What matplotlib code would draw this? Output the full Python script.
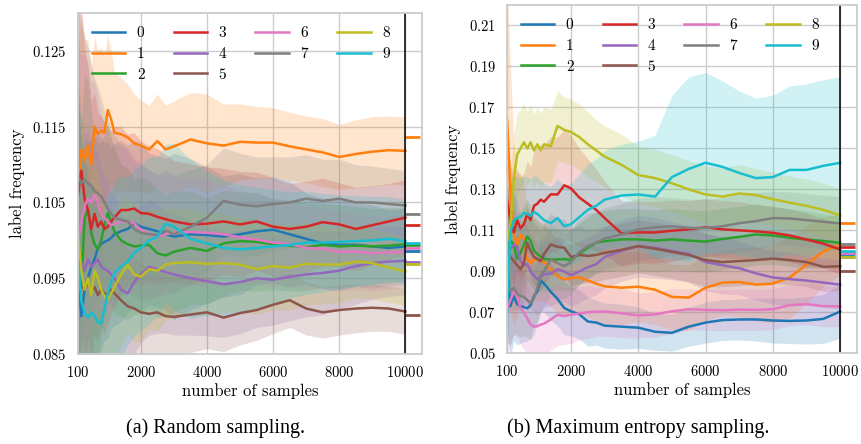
import numpy as np
import matplotlib
matplotlib.use("Agg")
import matplotlib.pyplot as plt

# number of labelled samples (x axis), shared by both panels
sample_counts = [100, 200, 300, 400, 500, 600, 700, 800, 900, 1000, 1100, 1200, 1400, 1600, 1800, 2000,
                 2250, 2500, 2750, 3000, 3500, 4000, 4500, 5000, 5500, 6000, 6500, 7000, 7500, 8000,
                 8500, 9000, 9500, 10000]

# true label frequency of each class (short marks right of the black line)
label_freq = [0.0986, 0.1136, 0.0994, 0.1020, 0.0972, 0.0901, 0.0990, 0.1035, 0.0969, 0.0997]

# ---- (a) random sampling: mean label frequency per class ----
rnd_mean_0 = [0.0960, 0.0900, 0.0935, 0.0950, 0.0965, 0.0975, 0.0990, 0.0995, 0.0998, 0.1000, 0.1003, 0.1008, 0.1012, 0.1015, 0.1022, 0.1018, 0.1015, 0.1012, 0.1008, 0.1005, 0.1008, 0.1007, 0.1005, 0.1008, 0.1012, 0.1014, 0.1008, 0.1002, 0.0996, 0.0994, 0.0994, 0.0992, 0.0990, 0.0992]
rnd_mean_1 = [0.1060, 0.1120, 0.1105, 0.1125, 0.1100, 0.1150, 0.1140, 0.1145, 0.1142, 0.1172, 0.1160, 0.1142, 0.1140, 0.1136, 0.1128, 0.1125, 0.1120, 0.1131, 0.1120, 0.1124, 0.1133, 0.1128, 0.1125, 0.1130, 0.1129, 0.1129, 0.1124, 0.1120, 0.1116, 0.1110, 0.1114, 0.1117, 0.1119, 0.1118]
rnd_mean_2 = [0.0950, 0.0940, 0.1030, 0.1040, 0.1010, 0.0995, 0.0988, 0.1000, 0.1020, 0.1036, 0.1025, 0.1012, 0.1000, 0.0995, 0.0992, 0.0993, 0.0994, 0.0983, 0.0980, 0.0985, 0.0990, 0.0986, 0.0996, 0.0999, 0.0998, 0.0995, 0.0993, 0.0991, 0.0994, 0.0992, 0.0993, 0.0992, 0.0993, 0.0995]
rnd_mean_3 = [0.1060, 0.1092, 0.1055, 0.1040, 0.1015, 0.1035, 0.1018, 0.1025, 0.1015, 0.1018, 0.1025, 0.1030, 0.1040, 0.1040, 0.1042, 0.1036, 0.1035, 0.1031, 0.1028, 0.1025, 0.1021, 0.1022, 0.1025, 0.1021, 0.1025, 0.1018, 0.1015, 0.1018, 0.1024, 0.1021, 0.1015, 0.1020, 0.1025, 0.1030]
rnd_mean_4 = [0.0990, 0.0970, 0.0960, 0.0975, 0.0965, 0.0970, 0.0975, 0.0965, 0.0962, 0.0960, 0.0955, 0.0950, 0.0935, 0.0930, 0.0945, 0.0955, 0.0965, 0.0962, 0.0958, 0.0955, 0.0950, 0.0946, 0.0942, 0.0945, 0.0950, 0.0948, 0.0952, 0.0955, 0.0957, 0.0960, 0.0966, 0.0970, 0.0972, 0.0973]
rnd_mean_5 = [0.0960, 0.0940, 0.0935, 0.0945, 0.0935, 0.0938, 0.0928, 0.0935, 0.0930, 0.0928, 0.0935, 0.0930, 0.0921, 0.0913, 0.0910, 0.0905, 0.0903, 0.0905, 0.0900, 0.0899, 0.0902, 0.0905, 0.0898, 0.0904, 0.0908, 0.0915, 0.0921, 0.0910, 0.0905, 0.0908, 0.0910, 0.0911, 0.0910, 0.0906]
rnd_mean_6 = [0.1000, 0.1025, 0.1045, 0.1055, 0.1050, 0.1060, 0.1050, 0.1035, 0.1030, 0.1025, 0.1020, 0.1022, 0.1025, 0.1025, 0.1022, 0.1014, 0.1008, 0.1005, 0.1008, 0.1010, 0.1011, 0.1010, 0.1008, 0.1004, 0.1001, 0.0997, 0.0995, 0.0990, 0.0989, 0.0985, 0.0985, 0.0983, 0.0984, 0.0985]
rnd_mean_7 = [0.1085, 0.1075, 0.1080, 0.1075, 0.1072, 0.1065, 0.1062, 0.1058, 0.1050, 0.1042, 0.1035, 0.1030, 0.1027, 0.1025, 0.1015, 0.1010, 0.1008, 0.1007, 0.1013, 0.1008, 0.1018, 0.1030, 0.1052, 0.1047, 0.1045, 0.1048, 0.1050, 0.1055, 0.1052, 0.1055, 0.1050, 0.1050, 0.1048, 0.1046]
rnd_mean_8 = [0.1005, 0.0960, 0.0935, 0.0950, 0.0928, 0.0960, 0.0950, 0.0935, 0.0926, 0.0922, 0.0930, 0.0938, 0.0955, 0.0968, 0.0955, 0.0952, 0.0962, 0.0960, 0.0968, 0.0970, 0.0971, 0.0969, 0.0970, 0.0968, 0.0962, 0.0966, 0.0964, 0.0969, 0.0968, 0.0968, 0.0972, 0.0970, 0.0964, 0.0959]
rnd_mean_9 = [0.0975, 0.0920, 0.0904, 0.0898, 0.0905, 0.0900, 0.0892, 0.0890, 0.0910, 0.0930, 0.0945, 0.0957, 0.0965, 0.0972, 0.0984, 0.0990, 0.1000, 0.1005, 0.1022, 0.1018, 0.1002, 0.0996, 0.0990, 0.0988, 0.0990, 0.0992, 0.0994, 0.0997, 0.0997, 0.0998, 0.0999, 0.1000, 0.1002, 0.0999]

# half width of the shaded band
rnd_hw_0 = [0.025, 0.022, 0.020, 0.018, 0.017, 0.016, 0.015, 0.014, 0.013, 0.013, 0.012, 0.012, 0.012, 0.011, 0.011, 0.011, 0.010, 0.010, 0.010, 0.011, 0.010, 0.009, 0.008, 0.008, 0.007, 0.007, 0.007, 0.006, 0.006, 0.006, 0.0055, 0.0055, 0.005, 0.005]
rnd_hw_1 = [0.020, 0.018, 0.016, 0.014, 0.013, 0.012, 0.011, 0.011, 0.010, 0.010, 0.009, 0.008, 0.0075, 0.007, 0.0065, 0.006, 0.0058, 0.0062, 0.0058, 0.006, 0.0062, 0.0065, 0.0055, 0.005, 0.0048, 0.0046, 0.0045, 0.0044, 0.0045, 0.0043, 0.0045, 0.0046, 0.0045, 0.0045]
rnd_hw_2 = [0.024, 0.021, 0.019, 0.017, 0.016, 0.015, 0.014, 0.013, 0.012, 0.012, 0.011, 0.011, 0.010, 0.010, 0.009, 0.009, 0.0085, 0.0085, 0.008, 0.008, 0.0075, 0.007, 0.007, 0.0065, 0.0065, 0.006, 0.006, 0.0058, 0.0055, 0.0055, 0.0052, 0.005, 0.005, 0.0048]
rnd_hw_3 = [0.026, 0.022, 0.020, 0.019, 0.017, 0.016, 0.015, 0.014, 0.014, 0.013, 0.012, 0.012, 0.011, 0.010, 0.010, 0.0095, 0.009, 0.009, 0.0085, 0.008, 0.008, 0.0075, 0.007, 0.007, 0.0065, 0.0065, 0.006, 0.006, 0.0058, 0.0055, 0.0055, 0.0052, 0.005, 0.005]
rnd_hw_4 = [0.022, 0.020, 0.018, 0.017, 0.016, 0.015, 0.014, 0.013, 0.012, 0.012, 0.011, 0.011, 0.010, 0.010, 0.0095, 0.009, 0.009, 0.0085, 0.008, 0.008, 0.0075, 0.0072, 0.007, 0.0068, 0.0065, 0.006, 0.0058, 0.0056, 0.0055, 0.0052, 0.005, 0.0048, 0.0046, 0.0045]
rnd_hw_5 = [0.022, 0.019, 0.017, 0.015, 0.014, 0.013, 0.012, 0.011, 0.010, 0.010, 0.009, 0.0085, 0.008, 0.0075, 0.007, 0.0065, 0.006, 0.0058, 0.0055, 0.0052, 0.005, 0.0048, 0.0045, 0.0042, 0.004, 0.0038, 0.0036, 0.0035, 0.0034, 0.0033, 0.0032, 0.0031, 0.003, 0.003]
rnd_hw_6 = [0.025, 0.022, 0.020, 0.018, 0.016, 0.015, 0.014, 0.013, 0.012, 0.012, 0.011, 0.0105, 0.010, 0.0095, 0.009, 0.0088, 0.0085, 0.008, 0.008, 0.0075, 0.007, 0.007, 0.0065, 0.0062, 0.006, 0.0058, 0.0056, 0.0055, 0.0053, 0.0052, 0.005, 0.005, 0.0048, 0.0048]
rnd_hw_7 = [0.024, 0.021, 0.019, 0.018, 0.016, 0.015, 0.014, 0.013, 0.012, 0.012, 0.011, 0.011, 0.010, 0.0095, 0.009, 0.009, 0.0085, 0.008, 0.008, 0.0078, 0.0075, 0.007, 0.007, 0.0068, 0.0065, 0.0062, 0.006, 0.0058, 0.0055, 0.0052, 0.005, 0.0048, 0.0047, 0.0046]
rnd_hw_8 = [0.023, 0.021, 0.019, 0.017, 0.016, 0.015, 0.014, 0.013, 0.012, 0.011, 0.011, 0.010, 0.0095, 0.009, 0.009, 0.0085, 0.008, 0.008, 0.0075, 0.0072, 0.007, 0.0068, 0.0065, 0.0062, 0.006, 0.0058, 0.0056, 0.0054, 0.0052, 0.005, 0.0048, 0.0047, 0.0046, 0.0045]
rnd_hw_9 = [0.024, 0.022, 0.020, 0.018, 0.017, 0.016, 0.015, 0.014, 0.013, 0.013, 0.012, 0.012, 0.012, 0.011, 0.011, 0.011, 0.011, 0.0105, 0.0105, 0.011, 0.0105, 0.0095, 0.009, 0.0085, 0.008, 0.0075, 0.007, 0.0068, 0.0065, 0.0062, 0.006, 0.0058, 0.0056, 0.0055]

# ---- (b) maximum entropy sampling ----
ent_mean_0 = [0.0950, 0.0730, 0.0780, 0.0740, 0.0730, 0.0725, 0.0720, 0.0735, 0.0780, 0.0800, 0.0855, 0.0840, 0.0800, 0.0765, 0.0721, 0.0705, 0.0690, 0.0655, 0.0650, 0.0635, 0.0630, 0.0625, 0.0605, 0.0600, 0.0630, 0.0650, 0.0662, 0.0665, 0.0665, 0.0660, 0.0658, 0.0660, 0.0668, 0.0704]
ent_mean_1 = [0.1640, 0.1300, 0.1090, 0.1025, 0.1080, 0.1060, 0.0960, 0.0941, 0.0960, 0.0955, 0.0950, 0.0945, 0.0910, 0.0876, 0.0860, 0.0868, 0.0870, 0.0855, 0.0840, 0.0827, 0.0820, 0.0825, 0.0810, 0.0775, 0.0772, 0.0820, 0.0845, 0.0848, 0.0835, 0.0840, 0.0870, 0.0933, 0.0998, 0.1031]
ent_mean_2 = [0.1000, 0.1050, 0.1030, 0.0960, 0.0990, 0.1030, 0.1070, 0.1050, 0.1000, 0.0985, 0.0970, 0.0960, 0.0958, 0.0958, 0.0960, 0.0955, 0.0985, 0.1015, 0.1040, 0.1047, 0.1056, 0.1056, 0.1050, 0.1056, 0.1050, 0.1045, 0.1058, 0.1068, 0.1080, 0.1075, 0.1064, 0.1055, 0.1048, 0.1039]
ent_mean_3 = [0.1250, 0.1150, 0.1090, 0.1150, 0.1110, 0.1130, 0.1180, 0.1150, 0.1220, 0.1230, 0.1250, 0.1240, 0.1276, 0.1275, 0.1320, 0.1305, 0.1260, 0.1230, 0.1200, 0.1160, 0.1085, 0.1090, 0.1090, 0.1098, 0.1105, 0.1115, 0.1105, 0.1100, 0.1095, 0.1088, 0.1075, 0.1055, 0.1035, 0.1007]
ent_mean_4 = [0.1000, 0.1010, 0.1030, 0.1020, 0.0950, 0.0930, 0.0935, 0.0900, 0.0880, 0.0860, 0.0875, 0.0885, 0.0890, 0.0910, 0.0900, 0.0880, 0.0900, 0.0920, 0.0935, 0.0970, 0.1000, 0.1023, 0.1015, 0.1000, 0.0985, 0.0945, 0.0930, 0.0915, 0.0890, 0.0870, 0.0862, 0.0855, 0.0845, 0.0835]
ent_mean_5 = [0.1000, 0.0970, 0.0950, 0.0930, 0.0910, 0.0940, 0.1040, 0.1000, 0.0970, 0.0960, 0.0950, 0.0985, 0.1031, 0.1020, 0.1015, 0.0970, 0.0980, 0.0975, 0.0980, 0.0990, 0.1005, 0.1023, 0.1010, 0.0995, 0.0980, 0.0955, 0.0945, 0.0950, 0.0955, 0.0962, 0.0955, 0.0945, 0.0922, 0.0925]
ent_mean_6 = [0.0720, 0.0760, 0.0800, 0.0780, 0.0720, 0.0700, 0.0670, 0.0640, 0.0630, 0.0632, 0.0640, 0.0645, 0.0665, 0.0688, 0.0682, 0.0688, 0.0695, 0.0700, 0.0703, 0.0704, 0.0695, 0.0685, 0.0690, 0.0705, 0.0715, 0.0712, 0.0710, 0.0713, 0.0712, 0.0715, 0.0735, 0.0740, 0.0730, 0.0729]
ent_mean_7 = [0.0850, 0.0800, 0.0820, 0.0790, 0.0780, 0.0775, 0.0760, 0.0745, 0.0770, 0.0820, 0.0880, 0.0900, 0.0958, 0.0940, 0.0925, 0.0945, 0.0995, 0.1023, 0.1040, 0.1060, 0.1080, 0.1105, 0.1115, 0.1120, 0.1112, 0.1112, 0.1120, 0.1135, 0.1145, 0.1160, 0.1158, 0.1150, 0.1142, 0.1134]
ent_mean_8 = [0.1050, 0.1120, 0.1350, 0.1470, 0.1500, 0.1530, 0.1500, 0.1530, 0.1490, 0.1520, 0.1490, 0.1520, 0.1510, 0.1610, 0.1590, 0.1580, 0.1555, 0.1520, 0.1490, 0.1460, 0.1420, 0.1370, 0.1355, 0.1330, 0.1300, 0.1275, 0.1265, 0.1280, 0.1272, 0.1252, 0.1235, 0.1220, 0.1200, 0.1173]
ent_mean_9 = [0.0750, 0.1090, 0.1150, 0.1160, 0.1165, 0.1185, 0.1180, 0.1170, 0.1190, 0.1180, 0.1165, 0.1150, 0.1135, 0.1160, 0.1120, 0.1130, 0.1165, 0.1200, 0.1220, 0.1250, 0.1270, 0.1275, 0.1265, 0.1360, 0.1400, 0.1430, 0.1410, 0.1380, 0.1355, 0.1360, 0.1395, 0.1395, 0.1415, 0.1430]

ent_hw_0 = [0.030, 0.025, 0.022, 0.020, 0.018, 0.017, 0.016, 0.016, 0.015, 0.015, 0.015, 0.014, 0.014, 0.013, 0.013, 0.012, 0.012, 0.012, 0.011, 0.011, 0.011, 0.010, 0.009, 0.009, 0.0095, 0.010, 0.010, 0.010, 0.0105, 0.011, 0.011, 0.0115, 0.012, 0.013]
ent_hw_1 = [0.065, 0.060, 0.045, 0.035, 0.030, 0.028, 0.025, 0.022, 0.020, 0.020, 0.019, 0.019, 0.018, 0.018, 0.017, 0.017, 0.017, 0.018, 0.018, 0.018, 0.018, 0.017, 0.017, 0.016, 0.016, 0.016, 0.016, 0.017, 0.018, 0.019, 0.020, 0.019, 0.017, 0.015]
ent_hw_2 = [0.030, 0.028, 0.025, 0.022, 0.020, 0.019, 0.018, 0.017, 0.017, 0.016, 0.016, 0.016, 0.015, 0.015, 0.015, 0.015, 0.015, 0.015, 0.015, 0.015, 0.015, 0.015, 0.015, 0.015, 0.015, 0.015, 0.015, 0.015, 0.015, 0.014, 0.014, 0.014, 0.013, 0.013]
ent_hw_3 = [0.030, 0.028, 0.026, 0.025, 0.025, 0.025, 0.026, 0.026, 0.027, 0.027, 0.027, 0.028, 0.028, 0.028, 0.027, 0.026, 0.024, 0.022, 0.020, 0.018, 0.016, 0.015, 0.015, 0.015, 0.014, 0.014, 0.014, 0.014, 0.013, 0.013, 0.013, 0.013, 0.012, 0.012]
ent_hw_4 = [0.030, 0.027, 0.025, 0.023, 0.021, 0.020, 0.019, 0.018, 0.018, 0.017, 0.017, 0.016, 0.016, 0.016, 0.015, 0.015, 0.015, 0.015, 0.015, 0.015, 0.015, 0.015, 0.015, 0.014, 0.014, 0.014, 0.014, 0.013, 0.013, 0.013, 0.013, 0.012, 0.012, 0.012]
ent_hw_5 = [0.030, 0.026, 0.024, 0.022, 0.020, 0.019, 0.018, 0.017, 0.016, 0.016, 0.015, 0.015, 0.015, 0.014, 0.014, 0.014, 0.014, 0.013, 0.013, 0.013, 0.013, 0.013, 0.013, 0.013, 0.013, 0.013, 0.012, 0.012, 0.012, 0.012, 0.012, 0.012, 0.012, 0.012]
ent_hw_6 = [0.025, 0.022, 0.020, 0.019, 0.018, 0.018, 0.017, 0.017, 0.017, 0.016, 0.016, 0.016, 0.015, 0.015, 0.014, 0.014, 0.013, 0.013, 0.012, 0.012, 0.012, 0.011, 0.011, 0.011, 0.010, 0.010, 0.010, 0.010, 0.010, 0.010, 0.010, 0.010, 0.010, 0.010]
ent_hw_7 = [0.030, 0.026, 0.023, 0.021, 0.020, 0.019, 0.018, 0.018, 0.018, 0.018, 0.018, 0.017, 0.017, 0.017, 0.016, 0.016, 0.016, 0.016, 0.015, 0.015, 0.015, 0.015, 0.015, 0.014, 0.014, 0.014, 0.014, 0.014, 0.014, 0.013, 0.013, 0.013, 0.013, 0.013]
ent_hw_8 = [0.030, 0.026, 0.022, 0.020, 0.019, 0.019, 0.018, 0.018, 0.018, 0.018, 0.018, 0.018, 0.018, 0.017, 0.016, 0.016, 0.016, 0.016, 0.015, 0.015, 0.015, 0.014, 0.014, 0.014, 0.014, 0.014, 0.014, 0.014, 0.013, 0.013, 0.013, 0.013, 0.013, 0.013]
ent_hw_9 = [0.030, 0.026, 0.022, 0.020, 0.019, 0.018, 0.018, 0.018, 0.018, 0.018, 0.018, 0.018, 0.018, 0.019, 0.020, 0.020, 0.021, 0.022, 0.023, 0.024, 0.025, 0.026, 0.030, 0.040, 0.045, 0.044, 0.042, 0.040, 0.039, 0.040, 0.041, 0.042, 0.042, 0.042]

x_ticks = [100, 2000, 4000, 6000, 8000, 10000]
rnd_yticks = [0.085, 0.095, 0.105, 0.115, 0.125]
ent_yticks = [0.05, 0.07, 0.09, 0.11, 0.13, 0.15, 0.17, 0.19, 0.21]

rnd_means = [rnd_mean_0, rnd_mean_1, rnd_mean_2, rnd_mean_3, rnd_mean_4,
             rnd_mean_5, rnd_mean_6, rnd_mean_7, rnd_mean_8, rnd_mean_9]
rnd_hws = [rnd_hw_0, rnd_hw_1, rnd_hw_2, rnd_hw_3, rnd_hw_4,
           rnd_hw_5, rnd_hw_6, rnd_hw_7, rnd_hw_8, rnd_hw_9]
ent_means = [ent_mean_0, ent_mean_1, ent_mean_2, ent_mean_3, ent_mean_4,
             ent_mean_5, ent_mean_6, ent_mean_7, ent_mean_8, ent_mean_9]
ent_hws = [ent_hw_0, ent_hw_1, ent_hw_2, ent_hw_3, ent_hw_4,
           ent_hw_5, ent_hw_6, ent_hw_7, ent_hw_8, ent_hw_9]

plt.rcParams['font.family'] = 'cmr10'
plt.rcParams['mathtext.fontset'] = 'cm'
plt.rcParams['axes.formatter.use_mathtext'] = True

GRID = '#cccccc'


def draw_panel(ax, means, hws, yticks, ylim):
    colors = plt.cm.tab10.colors
    x = np.array(sample_counts)
    for i in range(10):
        m = np.array(means[i])
        h = np.array(hws[i])
        ax.fill_between(x, m - h, m + h, color=colors[i], alpha=0.2, linewidth=0)
    for i in range(10):
        ax.plot(x, means[i], color=colors[i], lw=1.8, label=str(i))
    # true frequencies
    ax.hlines(label_freq, 10000, 10450, colors=colors[:10], lw=2)
    ax.axvline(10000, color='black', lw=1.1)

    ax.set_xlim(100, 10500)
    ax.set_ylim(*ylim)
    ax.set_xticks(x_ticks)
    ax.set_yticks(yticks)
    ax.grid(True, color=GRID, lw=1)
    ax.set_axisbelow(True)
    for sp in ax.spines.values():
        sp.set_color(GRID)
        sp.set_linewidth(1.3)
    ax.tick_params(length=0, pad=8, labelsize=10.5)
    ax.set_xlabel('number of samples', fontsize=12, labelpad=2)
    ax.set_ylabel('label frequency', fontsize=12, labelpad=5)
    ax.legend(loc='upper left', ncol=4, frameon=False, fontsize=11,
              handlelength=2.2, handletextpad=0.75, columnspacing=1.9, labelspacing=0.45)


fig = plt.figure(figsize=(8.61, 4.44), dpi=100)
ax_a = fig.add_axes([0.0906, 0.2027, 0.3995, 0.768])
ax_b = fig.add_axes([0.5889, 0.2043, 0.4065, 0.7845])

draw_panel(ax_a, rnd_means, rnd_hws, rnd_yticks, (0.085, 0.130))
draw_panel(ax_b, ent_means, ent_hws, ent_yticks, (0.05, 0.22))

fig.text(216 / 861, 1 - 428 / 444, '(a) Random sampling.', ha='center', va='center',
         family='Liberation Serif', fontsize=14.5)
fig.text(638 / 861, 1 - 428 / 444, '(b) Maximum entropy sampling.', ha='center', va='center',
         family='Liberation Serif', fontsize=14.5)

fig.savefig('out.png', dpi=100)
